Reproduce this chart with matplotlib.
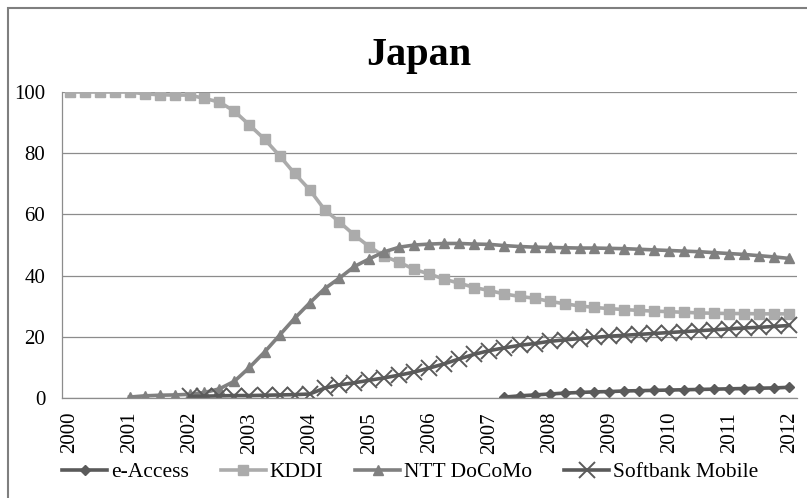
import matplotlib
matplotlib.use("Agg")
import matplotlib.pyplot as plt
import numpy as np
from matplotlib.patches import Rectangle

plt.rcParams['font.family'] = ['Liberation Serif', 'DejaVu Serif']

years = [str(y) for y in range(2000, 2013)]
n_quarters = 49  # 2000 Q1 .. 2012 Q1

e_access = [None]*29 + [0.3, 0.7, 1.0, 1.3, 1.6, 1.8, 2.0, 2.1, 2.3, 2.4, 2.5, 2.6,
                        2.7, 2.8, 2.9, 3.0, 3.1, 3.2, 3.3, 3.5]
kddi = [100, 100, 100, 100, 100, 99.4, 99.1, 99.0, 99.0, 97.9, 96.7, 93.7, 89.2, 84.6,
        79.2, 73.4, 68.1, 61.6, 57.5, 53.2, 49.4, 46.3, 44.3, 42.0, 40.5, 38.8, 37.5,
        36.1, 35.1, 34.0, 33.2, 32.6, 31.6, 30.8, 30.1, 29.6, 29.2, 28.9, 28.6, 28.4,
        28.2, 28.0, 27.8, 27.7, 27.6, 27.6, 27.5, 27.5, 27.5]
ntt = [None]*4 + [0.3, 0.7, 0.9, 1.0, 1.2, 1.8, 3.0, 5.5, 10.0, 15.0, 20.5, 26.0, 31.0,
                  35.7, 39.2, 43.0, 45.5, 47.8, 49.3, 50.0, 50.3, 50.5, 50.5, 50.3, 50.2,
                  49.8, 49.5, 49.3, 49.2, 49.1, 49.0, 49.0, 48.9, 48.8, 48.6, 48.4, 48.2,
                  48.0, 47.8, 47.5, 47.2, 46.9, 46.5, 46.1, 45.6]
softbank = [None]*8 + [0.5, 0.6, 0.7, 0.8, 0.8, 0.9, 1.0, 1.1, 1.3, 3.2, 4.3, 5.0, 5.8,
                       6.6, 7.5, 8.5, 9.8, 11.2, 12.8, 14.3, 15.5, 16.4, 17.2, 17.8, 18.5,
                       19.0, 19.4, 19.8, 20.2, 20.5, 20.8, 21.1, 21.4, 21.7, 22.0, 22.3,
                       22.6, 22.9, 23.1, 23.4, 23.7]

def arr(v):
    return np.array([np.nan if x is None else x for x in v], dtype=float)

x = np.arange(n_quarters)

fig = plt.figure(figsize=(8.07, 4.98), dpi=100)
fig.patches.append(Rectangle((8/807, -0.1), 1.2, 1 - 8/498 + 0.1, transform=fig.transFigure,
                             fill=False, edgecolor='#7f7f7f', linewidth=1.5))
ax = fig.add_axes([62/807, 1 - 398/498, (797 - 62)/807, (398 - 92)/498])

ax.set_xlim(-0.5, n_quarters - 0.5)
ax.set_ylim(0, 100)
ax.set_yticks([0, 20, 40, 60, 80, 100])
ax.yaxis.grid(True, color='#8c8c8c', linewidth=0.9)
ax.set_axisbelow(True)
ax.set_xticks(np.arange(0, n_quarters, 4))
ax.set_xticklabels(years, rotation=90)
for s in ['top', 'right']:
    ax.spines[s].set_visible(False)
for s in ['left', 'bottom']:
    ax.spines[s].set_color('#8c8c8c')
    ax.spines[s].set_linewidth(0.9)
ax.tick_params(axis='both', length=0, labelsize=15, colors='black')
ax.tick_params(axis='y', pad=12)
ax.tick_params(axis='x', pad=10)

ax.plot(x, arr(e_access), color='#5a5a5a', lw=2.6, marker='D', ms=5.5, label='e-Access')
ax.plot(x, arr(kddi), color='#ababab', lw=2.6, marker='s', ms=7.5, label='KDDI')
ax.plot(x, arr(ntt), color='#808080', lw=2.6, marker='^', ms=7, label='NTT DoCoMo')
ax.plot(x, arr(softbank), color='#5a5a5a', lw=2.6, marker='x', ms=11, mew=1.4,
        label='Softbank Mobile')

fig.text(419/807, 1 - 55/498, 'Japan', ha='center', va='center', fontsize=29,
         fontweight='bold')

fig.legend(loc='center', bbox_to_anchor=(410/807, 1 - 472/498), ncol=4, frameon=False,
           fontsize=15.5, handlelength=2.1, columnspacing=1.5, handletextpad=0.15,
           borderaxespad=0)

fig.savefig('out.png', dpi=100)
